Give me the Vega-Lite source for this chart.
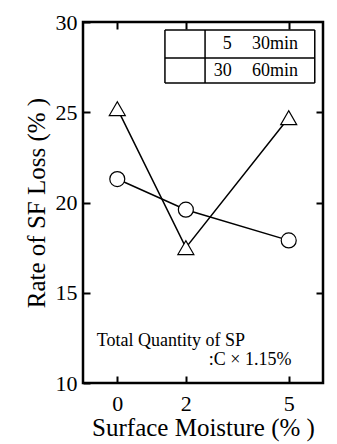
{
  "$schema": "https://vega.github.io/schema/vega-lite/v6.json",
  "width": 240,
  "height": 361,
  "autosize": "none",
  "padding": {"left": 83, "top": 22, "right": 14, "bottom": 61},
  "background": "white",
  "config": {
    "font": "Liberation Serif",
    "view": {"stroke": "black", "strokeWidth": 2.5},
    "axis": {
      "domain": false,
      "grid": false,
      "tickColor": "black",
      "tickWidth": 2,
      "tickSize": -7,
      "labelColor": "black",
      "labelFont": "Liberation Serif",
      "labelFontSize": 22,
      "titleColor": "black",
      "titleFont": "Liberation Serif",
      "titleFontSize": 25,
      "titleFontWeight": "normal"
    }
  },
  "datasets": {
    "series": [
      {"moisture": 0, "loss": 25.2, "series": "5-30min"},
      {"moisture": 2, "loss": 17.5, "series": "5-30min"},
      {"moisture": 5, "loss": 24.7, "series": "5-30min"},
      {"moisture": 0, "loss": 21.3, "series": "30-60min"},
      {"moisture": 2, "loss": 19.6, "series": "30-60min"},
      {"moisture": 5, "loss": 17.9, "series": "30-60min"}
    ],
    "box": [
      {"x1": 1.39, "x2": 5.76, "y1": 29.56, "y2": 29.56},
      {"x1": 1.39, "x2": 5.76, "y1": 28.0, "y2": 28.0},
      {"x1": 1.39, "x2": 5.76, "y1": 26.62, "y2": 26.62},
      {"x1": 1.39, "x2": 1.39, "y1": 26.62, "y2": 29.56},
      {"x1": 2.56, "x2": 2.56, "y1": 26.62, "y2": 29.56},
      {"x1": 5.76, "x2": 5.76, "y1": 26.62, "y2": 29.56}
    ],
    "nums": [
      {"x": 3.34, "y": 28.78, "t": "5"},
      {"x": 3.34, "y": 27.29, "t": "30"}
    ],
    "lefttext": [
      {"x": 3.93, "y": 28.78, "t": "30min"},
      {"x": 3.93, "y": 27.29, "t": "60min"},
      {"x": -0.6, "y": 12.3, "t": "Total Quantity of SP"},
      {"x": 2.67, "y": 11.27, "t": ":C × 1.15%"}
    ]
  },
  "layer": [
    {
      "data": {"name": "series"},
      "mark": {"type": "line", "color": "black", "strokeWidth": 1.5},
      "encoding": {
        "x": {"field": "moisture", "type": "quantitative", "scale": {"domain": [-1, 6], "nice": false, "zero": false},
              "axis": {"orient": "bottom", "values": [0, 2, 5], "title": "Surface Moisture (% )", "labelPadding": 17, "titlePadding": 1}},
        "y": {"field": "loss", "type": "quantitative", "scale": {"domain": [10, 30], "nice": false, "zero": false},
              "axis": {"orient": "left", "values": [10, 15, 20, 25, 30], "title": "Rate of SF Loss (% )", "labelPadding": 13, "titlePadding": 6}},
        "detail": {"field": "series"}
      }
    },
    {
      "data": {"name": "series"},
      "mark": {"type": "point", "filled": true, "fill": "white", "stroke": "black", "strokeWidth": 1.2, "opacity": 1},
      "encoding": {
        "x": {"field": "moisture", "type": "quantitative",
              "axis": {"orient": "top", "values": [0, 2, 5], "labels": false, "title": null}},
        "y": {"field": "loss", "type": "quantitative",
              "axis": {"orient": "right", "values": [15, 20, 25], "labels": false, "title": null}},
        "shape": {"field": "series", "type": "nominal", "scale": {"domain": ["5-30min", "30-60min"], "range": ["triangle-up", "circle"]}, "legend": null},
        "size": {"field": "series", "type": "nominal", "scale": {"domain": ["5-30min", "30-60min"], "range": [256, 225]}, "legend": null}
      }
    },
    {
      "data": {"name": "box"},
      "mark": {"type": "rule", "color": "black", "strokeWidth": 1.5},
      "encoding": {
        "x": {"field": "x1", "type": "quantitative", "axis": null},
        "x2": {"field": "x2"},
        "y": {"field": "y1", "type": "quantitative", "axis": null},
        "y2": {"field": "y2"}
      }
    },
    {
      "data": {"name": "nums"},
      "mark": {"type": "text", "align": "right", "baseline": "middle", "fontSize": 18, "font": "Liberation Serif", "color": "black"},
      "encoding": {
        "x": {"field": "x", "type": "quantitative", "axis": null},
        "y": {"field": "y", "type": "quantitative", "axis": null},
        "text": {"field": "t"}
      }
    },
    {
      "data": {"name": "lefttext"},
      "mark": {"type": "text", "align": "left", "baseline": "middle", "fontSize": 18, "font": "Liberation Serif", "color": "black"},
      "encoding": {
        "x": {"field": "x", "type": "quantitative", "axis": null},
        "y": {"field": "y", "type": "quantitative", "axis": null},
        "text": {"field": "t"}
      }
    }
  ],
  "resolve": {"axis": {"x": "independent", "y": "independent"}}
}
